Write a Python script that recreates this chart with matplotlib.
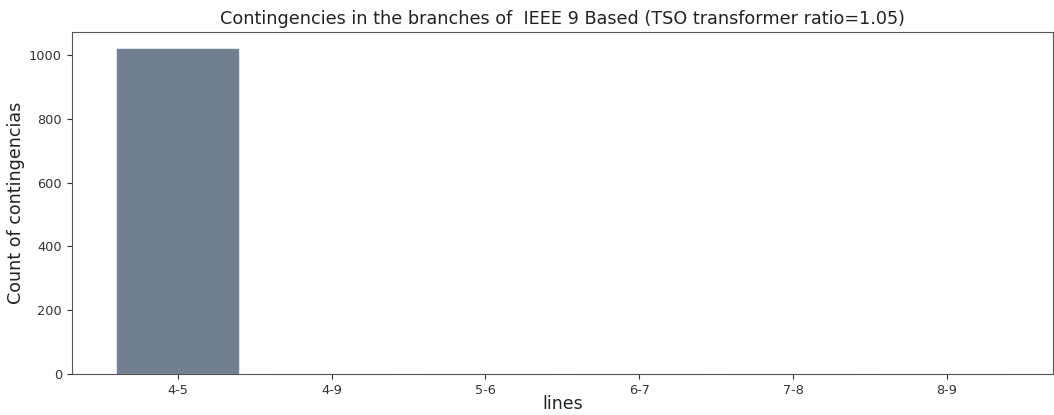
import matplotlib.pyplot as plt

lines = ['4-5', '4-9', '5-6', '6-7', '7-8', '8-9']
counts = [1022, 0, 0, 0, 0, 0]

fig = plt.figure(figsize=(10.54, 4.15), dpi=100)
ax = fig.add_axes([0.068, 0.099, 0.931, 0.824])
ax.bar(lines, counts, width=0.8, color='slategray', edgecolor='#dde3ea', linewidth=0.8)

ax.set_title('Contingencies in the branches of  IEEE 9 Based (TSO transformer ratio=1.05)',
             fontsize=12.7, color='#222222')
ax.set_xlabel('lines', fontsize=12.5, labelpad=-1, color='#222222')
ax.set_ylabel('Count of contingencias', fontsize=12.6, labelpad=3, color='#222222')
ax.tick_params(axis='both', labelsize=9.3, colors='#333333')
ax.set_yticks([0, 200, 400, 600, 800, 1000])
for s in ax.spines.values():
    s.set_color('#555555')

fig.savefig('out.png', dpi=100)
